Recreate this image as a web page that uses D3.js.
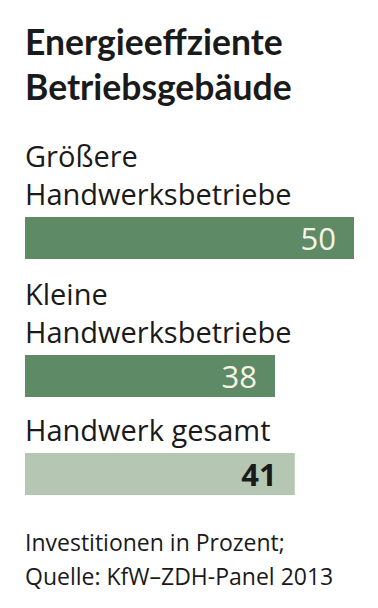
<!DOCTYPE html>
<html><head><meta charset="utf-8">
<script src="https://cdn.jsdelivr.net/npm/d3@7"></script>
<style>
html,body{margin:0;padding:0;background:#fff;}
svg{display:block;}
text{font-family:"Open Sans","Noto Sans",sans-serif;}
</style></head>
<body><div id="chart"></div>
<script>
const titleLines = ["Energieeffziente", "Betriebsgebäude"];
const categories = [["Größere", "Handwerksbetriebe"], ["Kleine", "Handwerksbetriebe"], ["Handwerk gesamt"]];
const values = [50, 38, 41];
const highlight = [false, false, true];
const footerLines = ["Investitionen in Prozent;", "Quelle: KfW–ZDH-Panel 2013"];

const W = 378, H = 608;
const svg = d3.select("#chart").append("svg").attr("width", W).attr("height", H);

const x = d3.scaleLinear().domain([0, 50]).range([25, 354]);
const barY = d3.scaleOrdinal().domain(d3.range(3)).range([217, 355, 453]);
const barH = 42;

svg.append("g").selectAll("text").data(titleLines).join("text")
  .attr("x", 25).attr("y", (d, i) => 55 + i * 45)
  .style("font-family", "Lato, sans-serif")
  .attr("font-size", 35.5).attr("font-weight", 700).attr("fill", "#1a1a1a")
  .text(d => d);

const g = svg.append("g");
categories.forEach((lines, i) => {
  const top = barY(i);
  lines.forEach((l, j) => {
    g.append("text").attr("x", 25)
      .attr("y", top - 12 - (lines.length - 1 - j) * 38)
      .attr("font-size", 29).attr("fill", "#1a1a1a").text(l);
  });
  g.append("rect").attr("x", x(0)).attr("y", top)
    .attr("width", x(values[i]) - x(0)).attr("height", barH)
    .attr("fill", highlight[i] ? "#b5c7b3" : "#5e8a66");
  g.append("text").attr("x", x(values[i]) - 18).attr("y", top + 33)
    .attr("text-anchor", "end").attr("font-size", 31)
    .attr("font-weight", highlight[i] ? 700 : 400)
    .attr("fill", highlight[i] ? "#1a1a1a" : "#f6f4e4")
    .text(values[i]);
});

svg.append("g").selectAll("text").data(footerLines).join("text")
  .attr("x", 25).attr("y", (d, i) => 551 + i * 34)
  .attr("font-size", 23).attr("fill", "#1a1a1a")
  .text(d => d);
</script></body></html>
